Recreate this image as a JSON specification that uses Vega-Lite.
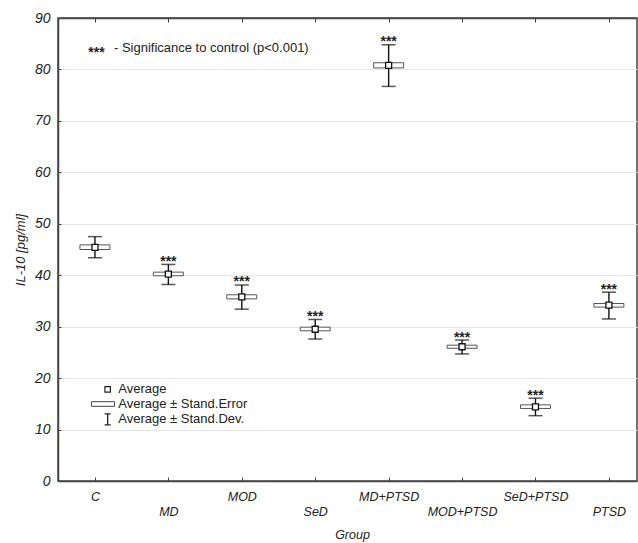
{
  "$schema": "https://vega.github.io/schema/vega-lite/v6.json",
  "width": 579,
  "height": 463,
  "autosize": {"type": "none"},
  "padding": {"left": 58, "top": 18, "right": 1, "bottom": 62},
  "background": "white",
  "config": {
    "font": "Liberation Sans",
    "view": {"stroke": "#444", "strokeWidth": 1.5},
    "axis": {
      "domainColor": "#444",
      "domainWidth": 1.5,
      "tickColor": "#444",
      "labelFont": "Liberation Sans",
      "labelFontStyle": "italic",
      "labelColor": "#222",
      "titleFont": "Liberation Sans",
      "titleFontStyle": "italic",
      "titleFontWeight": "normal",
      "titleColor": "#222"
    }
  },
  "data": {
    "values": [
      {"group": "C", "mean": 45.4, "se_lo": 45.0, "se_hi": 45.9, "sd_lo": 43.4, "sd_hi": 47.5, "sig": ""},
      {"group": "MD", "mean": 40.2, "se_lo": 39.9, "se_hi": 40.6, "sd_lo": 38.2, "sd_hi": 42.1, "sig": "***"},
      {"group": "MOD", "mean": 35.8, "se_lo": 35.4, "se_hi": 36.2, "sd_lo": 33.4, "sd_hi": 38.1, "sig": "***"},
      {"group": "SeD", "mean": 29.5, "se_lo": 29.2, "se_hi": 29.9, "sd_lo": 27.6, "sd_hi": 31.4, "sig": "***"},
      {"group": "MD+PTSD", "mean": 80.8, "se_lo": 80.3, "se_hi": 81.3, "sd_lo": 76.7, "sd_hi": 84.8, "sig": "***"},
      {"group": "MOD+PTSD", "mean": 26.1, "se_lo": 25.8, "se_hi": 26.4, "sd_lo": 24.7, "sd_hi": 27.4, "sig": "***"},
      {"group": "SeD+PTSD", "mean": 14.4, "se_lo": 14.1, "se_hi": 14.8, "sd_lo": 12.7, "sd_hi": 16.1, "sig": "***"},
      {"group": "PTSD", "mean": 34.2, "se_lo": 33.8, "se_hi": 34.5, "sd_lo": 31.5, "sd_hi": 36.7, "sig": "***"}
    ]
  },
  "resolve": {"axis": {"x": "independent"}},
  "layer": [
    {
      "mark": {"type": "rule", "color": "#111", "strokeWidth": 1.4},
      "encoding": {
        "x": {
          "field": "group", "type": "nominal", "sort": null,
          "scale": {
            "type": "point", "padding": 0.443, "align": 0.568,
            "domain": ["C", "MD", "MOD", "SeD", "MD+PTSD", "MOD+PTSD", "SeD+PTSD", "PTSD"]
          },
          "axis": {
            "orient": "bottom",
            "title": "Group",
            "titleFontSize": 12.5,
            "titleX": 294,
            "titleY": 53,
            "titleBaseline": "middle",
            "labelAngle": 0,
            "labelFontSize": 12.5,
            "labelBaseline": "top",
            "labelLineHeight": 14.7,
            "labelPadding": 13.5,
            "tickSize": -4,
            "labelExpr": "indexof(['MD','SeD','MOD+PTSD','PTSD'], datum.value) >= 0 ? ['', datum.label] : datum.label"
          }
        },
        "y": {
          "field": "sd_lo", "type": "quantitative",
          "scale": {"domain": [0, 90], "nice": false},
          "axis": {
            "title": "IL-10 [pg/ml]",
            "titleFontSize": 13,
            "titleX": -38,
            "titleBaseline": "middle",
            "values": [0, 10, 20, 30, 40, 50, 60, 70, 80, 90],
            "grid": true,
            "gridColor": "#e6e6e6",
            "gridWidth": 1,
            "labelFontSize": 14,
            "labelPadding": 11,
            "tickSize": -3
          }
        },
        "y2": {"field": "sd_hi"}
      }
    },
    {
      "mark": {"type": "tick", "orient": "horizontal", "size": 14, "thickness": 1.5, "color": "#111"},
      "encoding": {
        "x": {
          "field": "group", "type": "nominal", "sort": null,
          "axis": {"orient": "top", "labels": false, "title": null, "tickSize": -4, "grid": false}
        },
        "y": {"field": "sd_hi", "type": "quantitative"}
      }
    },
    {
      "mark": {"type": "tick", "orient": "horizontal", "size": 14, "thickness": 1.5, "color": "#111"},
      "encoding": {
        "x": {"field": "group", "type": "nominal", "sort": null, "axis": null},
        "y": {"field": "sd_lo", "type": "quantitative"}
      }
    },
    {
      "mark": {"type": "bar", "size": 30, "fill": "white", "stroke": "#555", "strokeWidth": 1},
      "encoding": {
        "x": {"field": "group", "type": "nominal", "sort": null, "axis": null},
        "y": {"field": "se_lo", "type": "quantitative"},
        "y2": {"field": "se_hi"}
      }
    },
    {
      "mark": {"type": "point", "shape": "square", "filled": true, "fill": "white", "stroke": "#111", "strokeWidth": 1.3, "size": 36, "opacity": 1},
      "encoding": {
        "x": {"field": "group", "type": "nominal", "sort": null, "axis": null},
        "y": {"field": "mean", "type": "quantitative"}
      }
    },
    {
      "mark": {"type": "text", "fontSize": 14, "fontWeight": "bold", "baseline": "alphabetic", "dy": 1.5, "color": "#222"},
      "encoding": {
        "x": {"field": "group", "type": "nominal", "sort": null, "axis": null},
        "y": {"field": "sd_hi", "type": "quantitative"},
        "text": {"field": "sig"}
      }
    },
    {
      "data": {"values": [{"note": "***"}]},
      "mark": {"type": "text", "fontSize": 14, "fontWeight": "bold", "baseline": "alphabetic", "align": "center", "dx": 1.5, "color": "#222"},
      "encoding": {
        "x": {"datum": "C", "type": "nominal", "axis": null},
        "y": {"datum": 82.4, "type": "quantitative"},
        "text": {"field": "note"}
      }
    },
    {
      "data": {"values": [{"note": "- Significance to control (p<0.001)"}]},
      "mark": {"type": "text", "fontSize": 13, "baseline": "middle", "align": "left", "dx": 19, "color": "#222"},
      "encoding": {
        "x": {"datum": "C", "type": "nominal", "axis": null},
        "y": {"datum": 84.2, "type": "quantitative"},
        "text": {"field": "note"}
      }
    },
    {
      "data": {"values": [{"label": "Average"}]},
      "mark": {"type": "point", "shape": "square", "filled": true, "fill": "white", "stroke": "#222", "strokeWidth": 1.2, "size": 30, "opacity": 1, "xOffset": 12.7},
      "encoding": {
        "x": {"datum": "C", "type": "nominal", "axis": null},
        "y": {"datum": 17.8, "type": "quantitative"}
      }
    },
    {
      "data": {"values": [{"label": "Average ± Stand.Error"}]},
      "mark": {"type": "point", "shape": "M-1,-0.2H1V0.2H-1Z", "filled": true, "fill": "white", "stroke": "#444", "strokeWidth": 1, "size": 529, "opacity": 1, "xOffset": 8},
      "encoding": {
        "x": {"datum": "C", "type": "nominal", "axis": null},
        "y": {"datum": 14.97, "type": "quantitative"}
      }
    },
    {
      "data": {"values": [{"label": "Average ± Stand.Dev."}]},
      "mark": {"type": "point", "shape": "M-0.55,-1H0.55M0,-1V1M-0.55,1H0.55", "filled": false, "fill": "transparent", "stroke": "#222", "strokeWidth": 1.3, "size": 121, "opacity": 1, "xOffset": 12.7},
      "encoding": {
        "x": {"datum": "C", "type": "nominal", "axis": null},
        "y": {"datum": 11.96, "type": "quantitative"}
      }
    },
    {
      "data": {"values": [{"label": "Average"}]},
      "mark": {"type": "text", "fontSize": 13, "baseline": "middle", "align": "left", "dx": 23.3, "color": "#222"},
      "encoding": {
        "x": {"datum": "C", "type": "nominal", "axis": null},
        "y": {"datum": 17.8, "type": "quantitative"},
        "text": {"field": "label"}
      }
    },
    {
      "data": {"values": [{"label": "Average ± Stand.Error"}]},
      "mark": {"type": "text", "fontSize": 13, "baseline": "middle", "align": "left", "dx": 23.3, "color": "#222"},
      "encoding": {
        "x": {"datum": "C", "type": "nominal", "axis": null},
        "y": {"datum": 14.97, "type": "quantitative"},
        "text": {"field": "label"}
      }
    },
    {
      "data": {"values": [{"label": "Average ± Stand.Dev."}]},
      "mark": {"type": "text", "fontSize": 13, "baseline": "middle", "align": "left", "dx": 23.3, "color": "#222"},
      "encoding": {
        "x": {"datum": "C", "type": "nominal", "axis": null},
        "y": {"datum": 11.96, "type": "quantitative"},
        "text": {"field": "label"}
      }
    }
  ]
}
